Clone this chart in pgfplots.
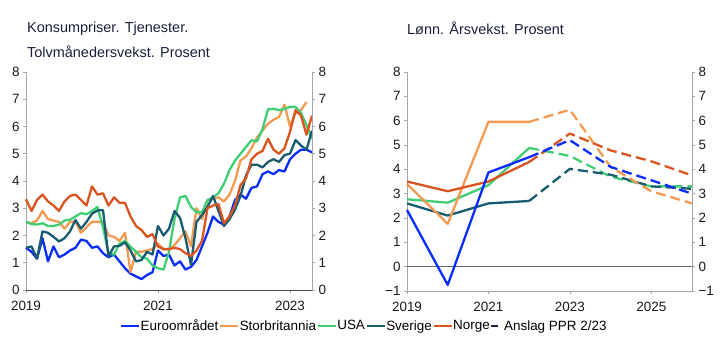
\documentclass[border=0pt]{standalone}
\usepackage{fontspec}
\setmainfont{Liberation Sans}
\usepackage{pgfplots}
\pgfplotsset{compat=1.18}
\definecolor{euro}{HTML}{0A2DFF}
\definecolor{uk}{HTML}{F39A52}
\definecolor{usa}{HTML}{40CE74}
\definecolor{swe}{HTML}{175C70}
\definecolor{nor}{HTML}{D9541E}
\definecolor{navy}{HTML}{1C2444}
\definecolor{titlec}{HTML}{1A1E3C}
\definecolor{frame}{HTML}{A6A6A6}
\pgfplotsset{
  common/.style={
    scale only axis, anchor=south west,
    tick align=outside, major tick length=3bp,
    tick style={frame, line width=0.6bp},
    /pgf/number format/assume math mode=true,
    every tick label/.append style={font=\fontsize{13.5}{16}\selectfont, text=black!90},
    xticklabel style={yshift=-5bp},
    clip=false,
  },
  ser/.style={line width=2.3bp, line join=round},
}
\begin{document}
\begin{tikzpicture}
\path[use as bounding box] (0,0) rectangle (722bp,346bp);

% ---------- left panel ----------
\begin{axis}[common,
  at={(26bp,56bp)}, width=286bp, height=218bp,
  xmin=0, xmax=52, ymin=0, ymax=8,
  separate axis lines, axis x line*=bottom, axis y line*=left,
  x axis line style={draw=black!70, line width=0.8bp, -},
  y axis line style={draw=frame, line width=0.8bp, -},
  xtick={0,24,48}, xticklabels={2019,2021,2023},
  ytick={0,1,...,8},
  legend columns=6,
  legend cell align=left,
  legend image code/.code={\draw[#1] (0bp,0bp) -- (18bp,0bp);},
  legend style={at={(axis description cs:1.18,-0.165)}, anchor=center,
    draw=none, fill=none, font=\fontsize{13.5}{16}\selectfont,
    /tikz/every even column/.append style={column sep=0bp},
    nodes={inner xsep=0.5bp}},
]
\addplot[ser, euro] coordinates {
(0,1.55)(1,1.4)(2,1.15)(3,1.9)(4,1.05)(5,1.6)(6,1.2)(7,1.3)(8,1.45)(9,1.55)
(10,1.85)(11,1.8)(12,1.55)(13,1.6)(14,1.35)(15,1.2)(16,1.3)(17,1.05)(18,0.8)(19,0.6)
(20,0.5)(21,0.4)(22,0.55)(23,0.65)(24,1.45)(25,1.25)(26,1.3)(27,0.9)(28,1.05)(29,0.75)
(30,0.85)(31,1.1)(32,1.6)(33,2.1)(34,2.7)(35,2.5)(36,2.4)(37,2.7)(38,3.3)(39,3.5)
(40,3.35)(41,3.75)(42,3.8)(43,4.25)(44,4.35)(45,4.25)(46,4.4)(47,4.35)(48,4.8)(49,5.0)
(50,5.15)(51,5.15)(52,5.05)};
\addlegendentry{Euroområdet}
\addplot[ser, uk] coordinates {
(0,2.5)(1,2.45)(2,2.55)(3,2.9)(4,2.6)(5,2.55)(6,2.5)(7,2.25)(8,2.5)(9,2.5)
(10,2.1)(11,2.3)(12,2.5)(13,2.5)(14,2.5)(15,2.0)(16,1.95)(17,1.8)(18,2.1)(19,0.65)
(20,1.4)(21,1.4)(22,1.45)(23,1.5)(24,1.7)(25,1.5)(26,1.5)(27,1.65)(28,1.9)(29,2.15)
(30,1.6)(31,3.0)(32,2.6)(33,3.3)(34,3.35)(35,3.4)(36,3.25)(37,3.5)(38,4.0)(39,4.75)
(40,4.9)(41,5.2)(42,5.6)(43,5.85)(44,6.1)(45,6.25)(46,6.35)(47,6.8)(48,6.0)(49,6.5)
(50,6.6)(51,6.9)};
\addlegendentry{Storbritannia}
\addplot[ser, usa] coordinates {
(0,2.5)(1,2.42)(2,2.4)(3,2.45)(4,2.35)(5,2.35)(6,2.4)(7,2.55)(8,2.58)(9,2.7)
(10,2.82)(11,2.78)(12,2.9)(13,3.05)(14,2.3)(15,1.35)(16,1.3)(17,1.7)(18,1.8)(19,1.6)
(20,1.4)(21,1.2)(22,1.15)(23,0.9)(24,0.8)(25,0.75)(26,1.4)(27,2.6)(28,3.4)(29,3.45)
(30,3.05)(31,2.85)(32,2.85)(33,3.3)(34,3.4)(35,3.55)(36,3.9)(37,4.4)(38,4.75)(39,5.0)
(40,5.25)(41,5.5)(42,5.45)(43,5.9)(44,6.63)(45,6.65)(46,6.6)(47,6.65)(48,6.72)(49,6.72)
(50,6.5)(51,6.05)(52,5.55)};
\addlegendentry{USA}
\addplot[ser, swe] coordinates {
(0,1.55)(1,1.6)(2,1.15)(3,2.15)(4,2.1)(5,1.95)(6,1.78)(7,1.9)(8,2.15)(9,2.57)
(10,2.25)(11,2.5)(12,2.8)(13,2.92)(14,2.93)(15,1.22)(16,1.6)(17,1.62)(18,1.75)(19,1.45)
(20,1.05)(21,1.1)(22,1.4)(23,1.3)(24,2.35)(25,2.0)(26,2.25)(27,2.9)(28,2.65)(29,1.9)
(30,0.92)(31,2.5)(32,2.75)(33,3.05)(34,3.45)(35,2.9)(36,2.35)(37,2.6)(38,2.95)(39,3.45)
(40,4.2)(41,4.6)(42,4.6)(43,4.5)(44,4.7)(45,4.8)(46,4.7)(47,4.95)(48,5.0)(49,5.5)
(50,5.3)(51,5.15)(52,5.85)};
\addlegendentry{Sverige}
\addplot[ser, nor] coordinates {
(0,3.33)(1,2.9)(2,3.3)(3,3.5)(4,3.25)(5,3.1)(6,2.9)(7,3.25)(8,3.45)(9,3.5)
(10,3.3)(11,3.1)(12,3.8)(13,3.5)(14,3.55)(15,3.1)(16,3.4)(17,3.2)(18,3.2)(19,2.7)
(20,2.35)(21,2.2)(22,1.95)(23,2.05)(24,1.6)(25,1.5)(26,1.5)(27,1.55)(28,1.5)(29,1.35)
(30,1.25)(31,1.45)(32,1.8)(33,3.0)(34,3.1)(35,3.15)(36,2.45)(37,2.7)(38,3.1)(39,3.85)
(40,4.1)(41,4.8)(42,5.0)(43,5.1)(44,5.55)(45,5.15)(46,5.0)(47,5.2)(48,5.8)(49,6.6)
(50,6.4)(51,5.7)(52,6.4)};
\addlegendentry{Norge}
\addlegendimage{legend image code/.code={\draw[navy, line width=2.3bp] (4bp,0bp) -- (11bp,0bp);}}
\addlegendentry{\hspace{4bp}Anslag PPR 2/23}
\end{axis}
\begin{axis}[common,
  at={(26bp,56bp)}, width=286bp, height=218bp,
  xmin=0, xmax=52, ymin=0, ymax=8,
  axis x line=none, axis y line*=right,
  y axis line style={draw=frame, line width=0.8bp, -},
  ytick={0,1,...,8},
]
\end{axis}

% ---------- right panel ----------
\begin{axis}[common,
  at={(407bp,55bp)}, width=285bp, height=219bp,
  xmin=2019, xmax=2026, ymin=-1, ymax=8,
  separate axis lines, axis x line*=bottom, axis y line*=left,
  x axis line style={draw=frame, line width=0.8bp, -},
  y axis line style={draw=frame, line width=0.8bp, -},
  xtick={2019,2021,2023,2025}, xticklabels={2019,2021,2023,2025},
  ytick={-1,0,...,8}, yticklabels={−1,0,1,2,3,4,5,6,7,8},
  extra y ticks={0}, extra y tick labels={},
  extra y tick style={grid=major, major grid style={draw=black!60, line width=0.9bp}, major tick length=0pt},
]
\addplot[ser, usa] coordinates {(2019,2.77)(2020,2.63)(2021,3.35)(2022,4.88)};
\addplot[ser, usa, dash pattern=on 10bp off 5bp] coordinates {(2022,4.88)(2023,4.55)(2024,3.7)(2025,3.3)(2026,3.3)};
\addplot[ser, swe] coordinates {(2019,2.6)(2020,2.1)(2021,2.6)(2022,2.7)};
\addplot[ser, swe, dash pattern=on 10bp off 5bp] coordinates {(2022,2.7)(2023,4.02)(2024,3.78)(2025,3.3)(2026,3.2)};
\addplot[ser, uk] coordinates {(2019,3.4)(2020,1.76)(2021,5.95)(2022,5.95)};
\addplot[ser, uk, dash pattern=on 10bp off 5bp] coordinates {(2022,5.95)(2023,6.45)(2024,4.1)(2025,3.1)(2026,2.6)};
\addplot[ser, nor] coordinates {(2019,3.5)(2020,3.1)(2021,3.5)(2022,4.3)};
\addplot[ser, nor, dash pattern=on 10bp off 5bp] coordinates {(2022,4.3)(2023,5.47)(2024,4.78)(2025,4.33)(2026,3.75)};
\addplot[ser, euro] coordinates {(2019,2.33)(2020,-0.75)(2021,3.87)(2022,4.5)};
\addplot[ser, euro, dash pattern=on 10bp off 5bp] coordinates {(2022,4.5)(2023,5.2)(2024,4.1)(2025,3.55)(2026,3.0)};
\end{axis}
\begin{axis}[common,
  at={(407bp,55bp)}, width=285bp, height=219bp,
  xmin=2019, xmax=2026, ymin=-1, ymax=8,
  axis x line=none, axis y line*=right,
  y axis line style={draw=frame, line width=0.8bp, -},
  ytick={-1,0,...,8}, yticklabels={−1,0,1,2,3,4,5,6,7,8},
]
\end{axis}

% ---------- titles ----------
\begin{scope}[every node/.style={anchor=west, inner sep=0pt, text=titlec, font=\fontsize{14.5}{17}\selectfont}]
\node at (27bp,317bp) {Konsumpriser. Tjenester.};
\node at (27bp,294bp) {Tolvmånedersvekst. Prosent};
\node at (407bp,318bp) {Lønn. Årsvekst. Prosent};
\end{scope}
\end{tikzpicture}
\end{document}
